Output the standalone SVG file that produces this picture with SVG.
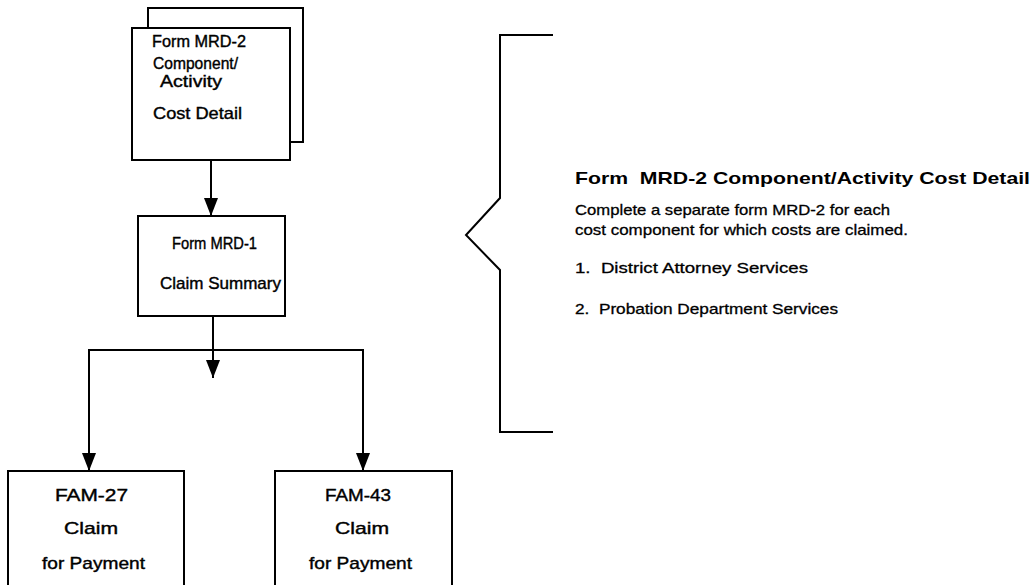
<svg xmlns="http://www.w3.org/2000/svg" width="1035" height="585" viewBox="0 0 1035 585">
  <style>
    .box { fill: #fff; stroke: #000; stroke-width: 2; }
    .line { fill: none; stroke: #000; stroke-width: 2; }
    .t { font-family: "Liberation Sans", Arial, sans-serif; font-size: 17px; fill: #000; stroke: #000; stroke-width: 0.4; }
    .h { font-family: "Liberation Sans", Arial, sans-serif; font-size: 17px; font-weight: bold; fill: #000; }
    .b { font-family: "Liberation Sans", Arial, sans-serif; font-size: 15px; fill: #000; stroke: #000; stroke-width: 0.3; }
  </style>
  <defs>
    <marker id="arrow" viewBox="0 0 18 14" refX="18" refY="7" markerWidth="18" markerHeight="14" markerUnits="userSpaceOnUse" orient="auto">
      <path d="M0,0 L18,7 L0,14 Z" fill="#000"/>
    </marker>
  </defs>

  <!-- Form MRD-2 (stacked sheets) -->
  <g id="node-mrd2">
    <path class="line" d="M148,28 V8 H303 V142 H290"/>
    <rect class="box" x="132" y="28" width="158" height="132"/>
    <text class="t" x="152" y="47" textLength="94" lengthAdjust="spacingAndGlyphs">Form MRD-2</text>
    <text class="t" x="153" y="69" textLength="85" lengthAdjust="spacingAndGlyphs">Component/</text>
    <text class="t" x="160" y="87" textLength="62" lengthAdjust="spacingAndGlyphs">Activity</text>
    <text class="t" x="153" y="119" textLength="89" lengthAdjust="spacingAndGlyphs">Cost Detail</text>
  </g>

  <!-- Form MRD-1 -->
  <g id="node-mrd1">
    <rect class="box" x="138" y="216" width="147" height="100"/>
    <text class="t" x="172" y="249" textLength="85" lengthAdjust="spacingAndGlyphs">Form MRD-1</text>
    <text class="t" x="160" y="289" textLength="121" lengthAdjust="spacingAndGlyphs">Claim Summary</text>
  </g>

  <!-- FAM-27 -->
  <g id="node-fam27">
    <rect class="box" x="8" y="471" width="176" height="130"/>
    <text class="t" x="55" y="501" textLength="73" lengthAdjust="spacingAndGlyphs">FAM-27</text>
    <text class="t" x="64" y="534" textLength="54" lengthAdjust="spacingAndGlyphs">Claim</text>
    <text class="t" x="42" y="569" textLength="103" lengthAdjust="spacingAndGlyphs">for Payment</text>
  </g>

  <!-- FAM-43 -->
  <g id="node-fam43">
    <rect class="box" x="275" y="471" width="177" height="130"/>
    <text class="t" x="325" y="501" textLength="66" lengthAdjust="spacingAndGlyphs">FAM-43</text>
    <text class="t" x="335" y="534" textLength="54" lengthAdjust="spacingAndGlyphs">Claim</text>
    <text class="t" x="309" y="569" textLength="103" lengthAdjust="spacingAndGlyphs">for Payment</text>
  </g>

  <!-- Connectors -->
  <g id="connectors">
    <line class="line" x1="211" y1="160" x2="211" y2="216" marker-end="url(#arrow)"/>
    <line class="line" x1="213" y1="316" x2="213" y2="378" marker-end="url(#arrow)"/>
    <path class="line" d="M89,350 H363"/>
    <line class="line" x1="89" y1="349" x2="89" y2="471" marker-end="url(#arrow)"/>
    <line class="line" x1="363" y1="349" x2="363" y2="471" marker-end="url(#arrow)"/>
  </g>

  <!-- Brace and description -->
  <g id="note">
    <path class="line" d="M553,35 H500 V198 L466,235 L500,270 V432 H553"/>
    <text class="h" x="575" y="184" textLength="455" lengthAdjust="spacingAndGlyphs">Form&#160; MRD-2 Component/Activity Cost Detail</text>
    <text class="b" x="575" y="215" textLength="315" lengthAdjust="spacingAndGlyphs">Complete a separate form MRD-2 for each</text>
    <text class="b" x="575" y="235" textLength="333" lengthAdjust="spacingAndGlyphs">cost component for which costs are claimed.</text>
    <text class="b" x="575" y="273" textLength="233" lengthAdjust="spacingAndGlyphs">1.&#160; District Attorney Services</text>
    <text class="b" x="575" y="314" textLength="263" lengthAdjust="spacingAndGlyphs">2.&#160; Probation Department Services</text>
  </g>
</svg>
